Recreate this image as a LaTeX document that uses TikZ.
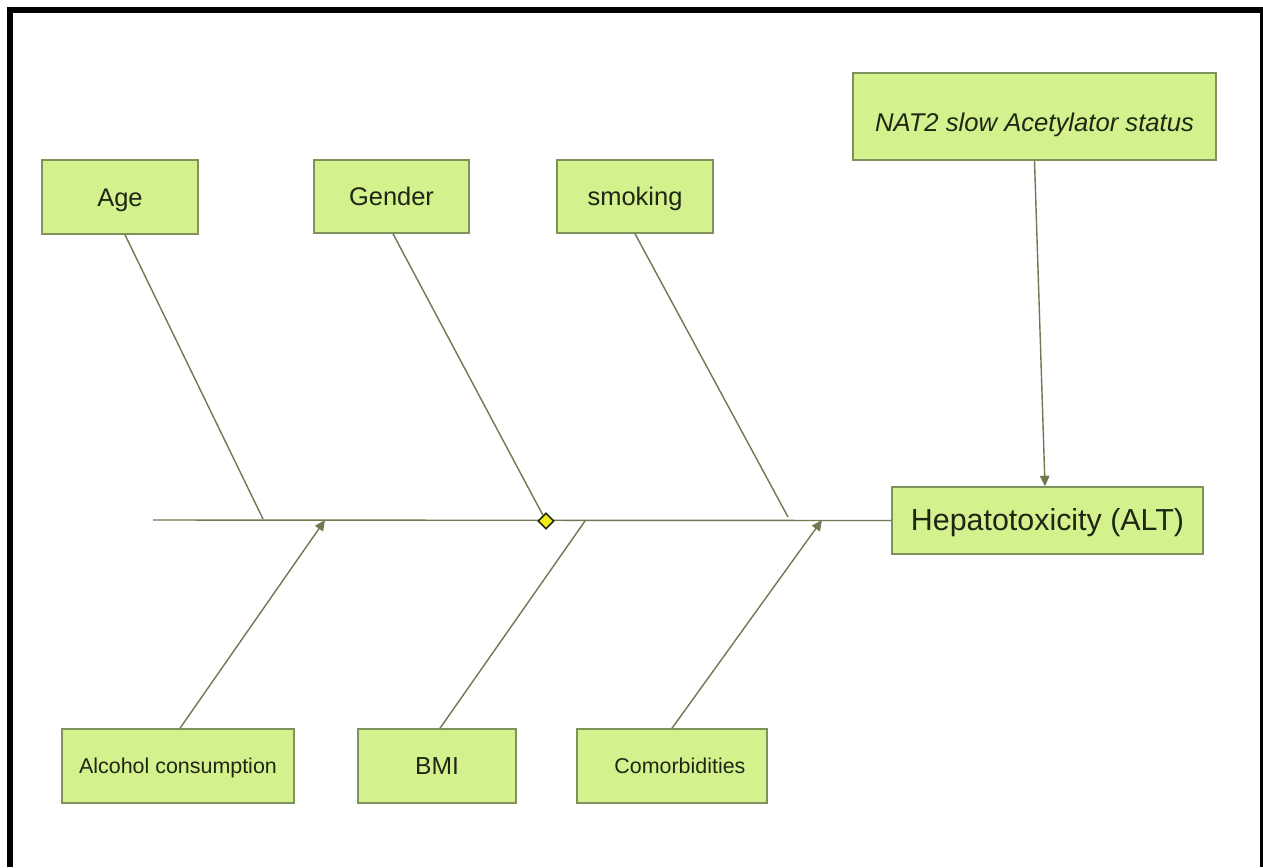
\documentclass[tikz,border=0pt]{standalone}
\usepackage{fontspec}
\setmainfont{Liberation Sans}
\usetikzlibrary{arrows.meta,shapes.geometric,calc}
\definecolor{boxfill}{RGB}{212,241,142}
\definecolor{boxdraw}{RGB}{128,146,92}
\definecolor{linecol}{RGB}{112,122,82}
\definecolor{txtcol}{RGB}{28,40,20}
\definecolor{diafill}{RGB}{240,236,20}
\tikzset{
  box/.style={draw=boxdraw, fill=boxfill, line width=0.9pt, rectangle, inner sep=0pt, text=txtcol, minimum height=1.48cm, text depth=0pt},
  big/.style={font=\fontsize{14.5}{16}\selectfont, text height=10.4pt},
  small/.style={font=\fontsize{12.2}{14}\selectfont, text height=8.8pt},
  bone/.style={draw=linecol, line width=0.8pt},
  arr/.style={bone, -{Triangle[length=6pt,width=5.5pt]}},
  dia/.style={diamond, draw=txtcol, fill=diafill, line width=0.8pt, inner sep=0pt, minimum width=9pt, minimum height=9pt},
}
\begin{document}
\begin{tikzpicture}[x=0.02cm,y=-0.02cm]
\useasboundingbox (0,0) rectangle (1263,867);
\fill[white] (0,0) rectangle (1263,867);
% frame
\fill[black] (7,7) rectangle (13,867);
\fill[black] (7,7) rectangle (1263,13);
\fill[black] (1260,7) rectangle (1263,867);

% boxes
\node[box, big, minimum width=3.12cm] (age) at (120,197) {Age};
\node[box, big, minimum width=3.10cm, minimum height=1.46cm] (gen) at (391.5,196.5) {Gender};
\node[box, big, minimum width=3.12cm, minimum height=1.46cm] (smk) at (635,196.5) {smoking};
\node[box, minimum width=7.26cm, minimum height=1.74cm, font=\fontsize{14.6}{16}\selectfont\itshape, text height=16.7pt] (nat) at (1034.5,116.5) {NAT2 slow Acetylator status};
\node[box, minimum width=6.22cm, minimum height=1.34cm, font=\fontsize{17.3}{19}\selectfont, text height=11.5pt] (hep) at (1047.5,520.5) {Hepatotoxicity (ALT)};
\node[box, small, minimum width=4.64cm] (alc) at (178,766) {Alcohol consumption};
\node[box, big, minimum width=3.16cm, font=\fontsize{14}{16}\selectfont, text height=10pt] (bmi) at (437,766) {BMI};
\node[box, small, minimum width=3.80cm] (com) at (672,766) {\hspace*{9pt}Comorbidities};

% spine
\coordinate (tail) at (153,520);
\draw[bone] (tail) -- (hep.west);

% diamond
\node[dia] (dia) at (546,521) {};

% branch end points on spine
\coordinate (ea) at (263,519);
\coordinate (es) at (788,517);
\coordinate (eal) at (325,520);
\coordinate (eb) at (585,521);
\coordinate (ec) at (822,520);

% upper bones
\draw[bone] ($(age.south)+(5,0)$) -- (ea);
\draw[bone] ($(gen.south)+(1.5,0)$) -- (dia);
\draw[bone] (smk.south) -- (es);
\draw[arr] (nat.south) -- ($(hep.north)+(-2.5,0)$);

% lower bones
\draw[arr] ($(alc.north)+(2,0)$) -- (eal);
\draw[bone] ($(bmi.north)+(3,0)$) -- (eb);
\draw[arr] (com.north) -- (ec);

% diamond on top of the bones
\node[dia] at (dia) {};
\end{tikzpicture}
\end{document}
